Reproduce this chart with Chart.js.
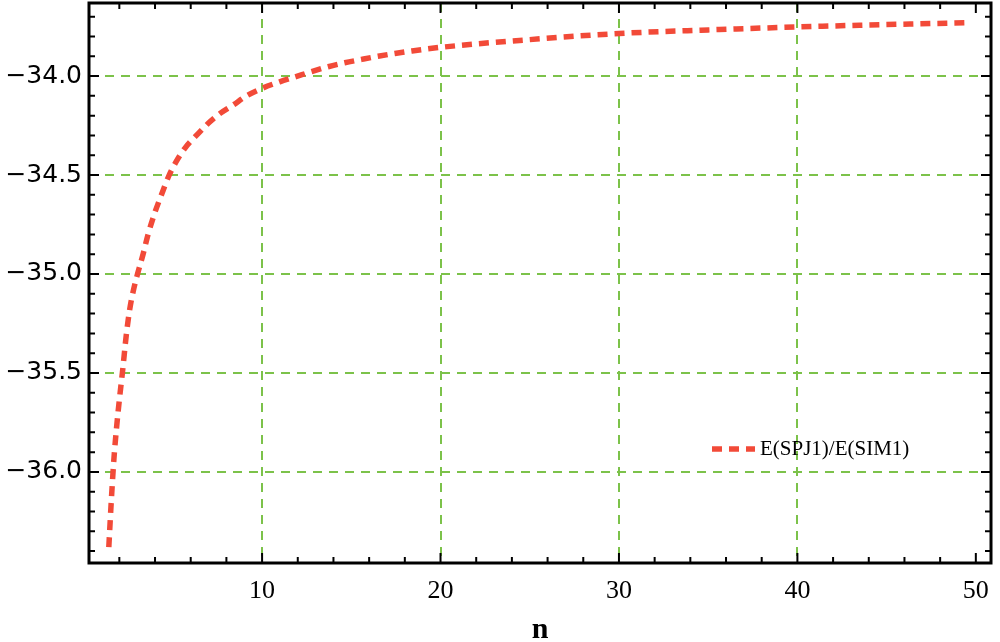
<!DOCTYPE html>
<html>
<head>
<meta charset="utf-8">
<script src="https://cdn.jsdelivr.net/npm/chart.js@4.4.0/dist/chart.umd.min.js"></script>
<style>
  html, body { margin: 0; padding: 0; background: #fff; }
  #wrap { width: 1000px; height: 642px; }
</style>
</head>
<body>
<div id="wrap"><canvas id="ratioChart" width="1000" height="642"></canvas></div>
<script>
// values
const nValues = [1.41, 1.56, 1.70, 1.84, 2.02, 2.17, 2.4, 2.58, 2.77, 3.02, 3.33, 3.61, 3.99, 4.36, 4.77, 5.2, 5.67, 6.32, 6.97, 7.63, 8.37, 9.13, 10, 10.99, 11.9, 12.76, 13.7, 14.63, 15.57, 16.5, 17.44, 18.4, 20, 25, 30, 35, 40, 45, 49.4];
const ratioValues = [-36.38, -36.13, -35.93, -35.78, -35.62, -35.5, -35.3, -35.18, -35.09, -35.0, -34.90, -34.80, -34.69, -34.6, -34.505, -34.43, -34.365, -34.30, -34.24, -34.19, -34.147, -34.10, -34.062, -34.029, -34.003, -33.978, -33.953, -33.933, -33.916, -33.9, -33.886, -33.873, -33.855, -33.816, -33.785, -33.767, -33.752, -33.74, -33.731];
const seriesLabel = 'E(SPJ1)/E(SIM1)';
const xTickValues = [10, 20, 30, 40, 50];
const yTickValues = [-36.0, -35.5, -35.0, -34.5, -34.0];
const xRange = [0.3, 50.85];
const yRange = [-36.46, -33.631];
const xMinorStep = 2;
const yMinorStep = 0.1;

const red = '#f24a38';
const green = '#7cc24a';

const frame = {
  id: 'frame',
  afterDraw(chart) {
    const { ctx, chartArea: a, scales: { x, y } } = chart;
    ctx.save();
    ctx.strokeStyle = '#000';
    ctx.lineWidth = 2;
    // y minor / major ticks, inward
    for (let i = Math.ceil(yRange[0] / yMinorStep); i * yMinorStep <= yRange[1]; i++) {
      const py = y.getPixelForValue(i * yMinorStep);
      const len = i % 5 === 0 ? 10 : 6;
      ctx.beginPath();
      ctx.moveTo(a.left, py); ctx.lineTo(a.left + len, py);
      ctx.moveTo(a.right, py); ctx.lineTo(a.right - len, py);
      ctx.stroke();
    }
    for (let v = xMinorStep; v <= xRange[1]; v += xMinorStep) {
      const px = x.getPixelForValue(v);
      const len = v % 10 === 0 ? 10 : 6;
      ctx.beginPath();
      ctx.moveTo(px, a.bottom); ctx.lineTo(px, a.bottom - len);
      ctx.moveTo(px, a.top); ctx.lineTo(px, a.top + len);
      ctx.stroke();
    }
    ctx.lineWidth = 3;
    ctx.strokeRect(a.left, a.top, a.right - a.left, a.bottom - a.top);

    // legend inside the plot
    const ds = chart.data.datasets[0];
    const ly = 449;
    ctx.strokeStyle = ds.borderColor;
    ctx.lineWidth = ds.borderWidth;
    ctx.setLineDash(ds.borderDash);
    ctx.beginPath();
    ctx.moveTo(712, ly); ctx.lineTo(755, ly);
    ctx.stroke();
    ctx.setLineDash([]);
    ctx.fillStyle = '#000';
    ctx.font = '21px "Liberation Serif", serif';
    ctx.textBaseline = 'middle';
    ctx.fillText(ds.label, 760, ly);
    ctx.restore();
  }
};

const noPad = s => { s.paddingTop = 0; s.paddingBottom = 0; s.paddingLeft = 0; s.paddingRight = 0; };

new Chart(document.getElementById('ratioChart').getContext('2d'), {
  type: 'line',
  data: {
    datasets: [{
      label: seriesLabel,
      data: nValues.map((n, i) => ({ x: n, y: ratioValues[i] })),
      borderColor: red,
      borderWidth: 5.5,
      borderDash: [10, 7],
      cubicInterpolationMode: 'monotone',
      pointRadius: 0,
      fill: false
    }]
  },
  options: {
    responsive: false,
    animation: false,
    layout: { padding: { top: 3, right: 9, left: 0, bottom: 0 } },
    plugins: { legend: { display: false }, tooltip: { enabled: false } },
    scales: {
      x: {
        type: 'linear',
        min: xRange[0],
        max: xRange[1],
        afterBuildTicks: s => { s.ticks = xTickValues.map(v => ({ value: v })); },
        afterFit: s => { s.height = 79; noPad(s); },
        ticks: {
          padding: 13,
          color: '#000',
          maxRotation: 0,
          font: { family: '"Liberation Serif", serif', size: 26 }
        },
        grid: {
          color: c => (c.tick && c.tick.value === 50 ? 'rgba(0,0,0,0)' : green),
          lineWidth: 2,
          drawTicks: false
        },
        border: { display: false, dash: [9, 7] },
        title: {
          display: true,
          text: 'n',
          color: '#000',
          font: { family: '"Liberation Serif", serif', size: 30, weight: 'bold', lineHeight: 0.8 },
          padding: { top: 0, bottom: 0 }
        }
      },
      y: {
        min: yRange[0],
        max: yRange[1],
        afterBuildTicks: s => { s.ticks = yTickValues.map(v => ({ value: v })); },
        afterFit: s => { s.width = 89; noPad(s); },
        ticks: {
          padding: 7,
          color: '#000',
          font: { family: '"DejaVu Sans", sans-serif', size: 25 },
          callback: v => '\u2212' + Math.abs(v).toFixed(1)
        },
        grid: { color: green, lineWidth: 2, drawTicks: false },
        border: { display: false, dash: [9, 7] }
      }
    }
  },
  plugins: [frame]
});
</script>
</body>
</html>
